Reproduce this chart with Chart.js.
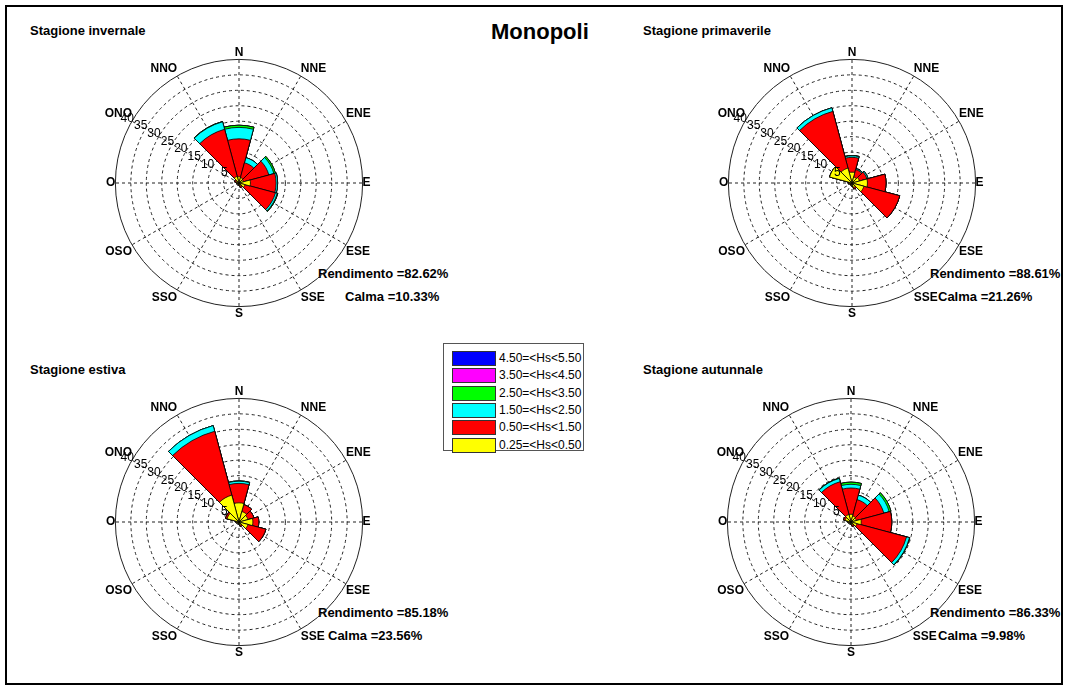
<!DOCTYPE html>
<html>
<head>
<meta charset="utf-8">
<script src="https://cdn.jsdelivr.net/npm/chart.js@4.4.1/dist/chart.umd.min.js"></script>
<style>
  body { margin: 0; background: #fff; font-family: 'Liberation Sans', Arial, sans-serif; }
  #page { position: relative; width: 1068px; height: 686px; overflow: hidden; }
  #frame { position: absolute; left: 5px; top: 5px; width: 1054px; height: 676px; border: 2px solid #000; }
  .lbl { position: absolute; font-weight: bold; font-size: 13px; color: #000; white-space: nowrap; line-height: 1; }
  canvas { position: absolute; }
  #legend { position: absolute; left: 443px; top: 343px; width: 139px; height: 106px; border: 1px solid #555; background: #fff; }
  .lrow { position: absolute; left: 8px; height: 15px; font-size: 12px; line-height: 15px; white-space: nowrap; }
  .sw { position: absolute; left: 0; top: 0; width: 42px; height: 13px; border: 1px solid #333; }
  .lrow span { position: absolute; left: 47px; top: 0; }
</style>
</head>
<body>
<div id="page">
  <div id="frame"></div>
  <div class="lbl" style="left:491px;top:21px;font-size:22px;">Monopoli</div>
  <div id="legend"></div>
</div>
<script>
// compass sectors, clockwise from north
var directions = ['N','NNE','ENE','E','ESE','SSE','S','SSO','OSO','O','ONO','NNO'];
var bandLabels = ['0.25=<Hs<0.50','0.50=<Hs<1.50','1.50=<Hs<2.50','2.50=<Hs<3.50','3.50=<Hs<4.50','4.50=<Hs<5.50'];
var bandColors = ['#ffff00','#ff0000','#00ffff','#00ff00','#ff00ff','#0000ff'];
var radialTicks = [5,10,15,20,25,30,35,40];
var noWaves = [0,0,0,0,0,0,0,0,0,0,0,0];

// frequencies (%) per Hs band
var winterHs025 = [2.0,1.8,1.5,3.7,2.0,1.0,0.5,0.4,0.4,0.6,1.0,2.2];
var winterHs050 = [12.3,5.0,8.5,8.3,10.2,0.5,0.3,0.1,0.1,0.2,0.5,15.8];
var winterHs150 = [3.7,1.7,1.7,0.5,0.6,0,0,0,0,0,0,2.5];
var winterHs250 = [0.7,0,0.5,0,0.2,0,0,0,0,0,0,0.1];

var springHs025 = [3.5,2.0,2.5,5.0,4.0,1.5,0.8,0.5,0.5,1.0,7.5,5.0];
var springHs050 = [4.8,2.5,2.5,6.0,12.0,0.5,0.2,0.1,0.1,0.2,0,19.0];
var springHs150 = [0.5,0.3,0.4,0,0,0,0,0,0,0,0,1.2];
var springHs250 = [0.1,0,0,0,0,0,0,0,0,0,0,0];

var summerHs025 = [6.2,3.5,3.0,4.5,3.0,1.0,0.5,0.4,0.4,0.8,4.0,9.0];
var summerHs050 = [6.3,2.3,2.0,1.9,6.0,0.5,0.2,0.1,0.1,0.2,0.5,21.4];
var summerHs150 = [0.7,0,0,0,0,0,0,0,0,0,0,1.9];
var summerHs250 = [0.1,0,0,0,0,0,0,0,0,0,0,0];

var autumnHs025 = [2.5,2.0,1.8,3.3,2.0,1.0,0.5,0.4,0.4,0.8,2.0,2.5];
var autumnHs050 = [8.5,5.5,9.2,9.9,16.6,0.5,0.2,0.1,0.1,0.2,0.5,11.0];
var autumnHs150 = [1.2,1.5,1.8,0,1.0,0,0,0,0,0,0,1.1];
var autumnHs250 = [0.7,0,0.6,0,0.1,0,0,0,0,0,0,0.1];

var roses = [
  { title: 'Stagione invernale', bands: [winterHs025, winterHs050, winterHs150, winterHs250, noWaves, noWaves],
    rend: 'Rendimento =82.62%', calma: 'Calma =10.33%', cx: 239, cy: 183, tx: 30, ty: 24, rx: 318, ry: 267, kx: 345, ky: 290 },
  { title: 'Stagione primaverile', bands: [springHs025, springHs050, springHs150, springHs250, noWaves, noWaves],
    rend: 'Rendimento =88.61%', calma: 'Calma =21.26%', cx: 852, cy: 183, tx: 643, ty: 24, rx: 930, ry: 267, kx: 938, ky: 290 },
  { title: 'Stagione estiva', bands: [summerHs025, summerHs050, summerHs150, summerHs250, noWaves, noWaves],
    rend: 'Rendimento =85.18%', calma: 'Calma =23.56%', cx: 239, cy: 522, tx: 30, ty: 363, rx: 318, ry: 606, kx: 328, ky: 629 },
  { title: 'Stagione autunnale', bands: [autumnHs025, autumnHs050, autumnHs150, autumnHs250, noWaves, noWaves],
    rend: 'Rendimento =86.33%', calma: 'Calma =9.98%', cx: 851, cy: 522, tx: 643, ty: 363, rx: 930, ry: 606, kx: 938, ky: 629 }
];

var page = document.getElementById('page');

function addText(txt, x, y) {
  var d = document.createElement('div');
  d.className = 'lbl';
  d.style.left = x + 'px';
  d.style.top = y + 'px';
  d.textContent = txt;
  page.appendChild(d);
}

// dashed spokes through the direction labels, under the bars
var spokes = {
  id: 'spokes',
  beforeDatasetsDraw: function(chart) {
    var s = chart.scales.r, ctx = chart.ctx;
    ctx.save();
    ctx.strokeStyle = '#222';
    ctx.lineWidth = 1;
    ctx.setLineDash([3, 3]);
    for (var i = 0; i < directions.length; i++) {
      var p = s.getPointPosition(i, s.drawingArea, Math.PI / directions.length);
      ctx.beginPath();
      ctx.moveTo(s.xCenter, s.yCenter);
      ctx.lineTo(p.x, p.y);
      ctx.stroke();
    }
    ctx.restore();
  }
};

// ring values written along the ONO direction
var ringLabels = {
  id: 'ringLabels',
  afterDraw: function(chart) {
    var s = chart.scales.r, ctx = chart.ctx;
    var k = directions.indexOf('ONO');
    ctx.save();
    ctx.font = '12px "Liberation Sans", Arial, sans-serif';
    ctx.fillStyle = '#000';
    ctx.textAlign = 'right';
    ctx.textBaseline = 'bottom';
    radialTicks.forEach(function(v) {
      var p = s.getPointPosition(k, s.getDistanceFromCenterForValue(v), Math.PI / directions.length);
      ctx.fillText(String(v), p.x + 2, p.y + 3);
    });
    ctx.restore();
  }
};

var W = 300, H = 276;

roses.forEach(function(r) {
  addText(r.title, r.tx, r.ty);
  addText(r.rend, r.rx, r.ry);
  addText(r.calma, r.kx, r.ky);

  var cv = document.createElement('canvas');
  cv.width = W; cv.height = H;
  cv.style.left = (r.cx - W / 2) + 'px';
  cv.style.top = (r.cy - H / 2) + 'px';
  page.appendChild(cv);

  // stacked rose: cumulative totals, smallest band drawn on top
  var cum = noWaves.slice();
  var datasets = r.bands.map(function(vals, b) {
    cum = cum.map(function(c, i) { return c + vals[i]; });
    return {
      label: bandLabels[b],
      data: cum.slice(),
      backgroundColor: bandColors[b],
      borderColor: '#000',
      borderWidth: 0.8
    };
  });

  new Chart(cv.getContext('2d'), {
    type: 'polarArea',
    data: { labels: directions, datasets: datasets },
    options: {
      responsive: false,
      animation: false,
      layout: { padding: 0 },
      plugins: { legend: { display: false }, tooltip: { enabled: false } },
      scales: {
        r: {
          min: 0,
          max: 40,
          startAngle: -15,
          ticks: { display: false, stepSize: 5 },
          grid: { circular: true, color: '#222', lineWidth: 1 },
          border: { dash: function(c) { return c.tick && c.tick.value === 40 ? [] : [3, 3]; } },
          angleLines: { display: false },
          pointLabels: {
            display: true,
            centerPointLabels: true,
            padding: 0,
            color: '#000',
            font: { family: '"Liberation Sans", Arial, sans-serif', size: 12, weight: 'bold' }
          }
        }
      }
    },
    plugins: [spokes, ringLabels]
  });
});

// shared legend, highest band first
var legend = document.getElementById('legend');
for (var b = bandLabels.length - 1; b >= 0; b--) {
  var row = document.createElement('div');
  row.className = 'lrow';
  row.style.top = (7 + (bandLabels.length - 1 - b) * 17.3) + 'px';
  row.innerHTML = '<div class="sw" style="background:' + bandColors[b] + '"></div><span></span>';
  row.querySelector('span').textContent = bandLabels[b];
  legend.appendChild(row);
}
</script>
</body>
</html>
